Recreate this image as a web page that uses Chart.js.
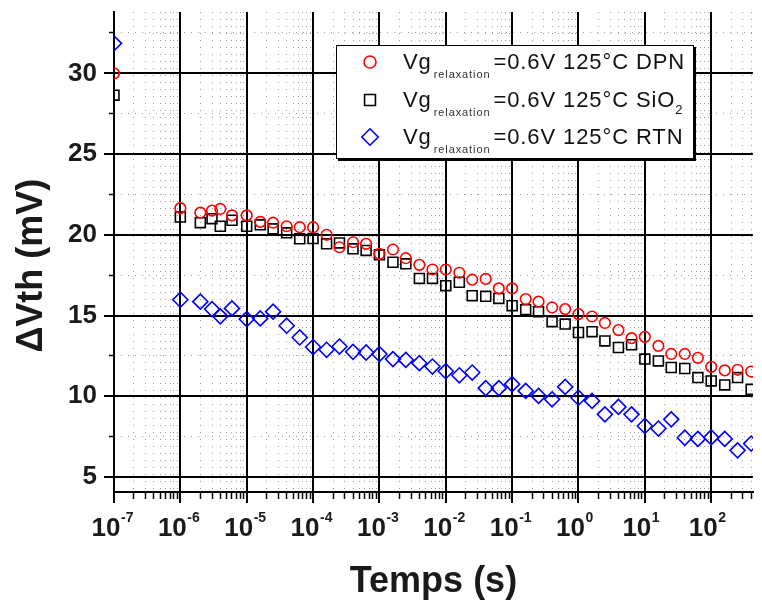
<!DOCTYPE html>
<html>
<head>
<meta charset="utf-8">
<script src="https://cdn.jsdelivr.net/npm/chart.js@4.4.1/dist/chart.umd.min.js"></script>
<style>
    html, body { margin: 0; padding: 0; background: #fff; }
    #wrap { position: relative; width: 762px; height: 604px; overflow: hidden; }
    #legend {
        position: absolute; left: 336px; top: 45px; width: 356px; height: 112px;
        border: 1px solid #000; box-shadow: 2px 2px 0 #000; background: #fff;
        font-family: 'Liberation Sans', Arial, sans-serif; color: #111;
    }
    #legend canvas { position: absolute; left: 23px; }
    #legend .row {
        position: absolute; left: 66px; height: 22px; line-height: 1;
        font-size: 22px; letter-spacing: 0.9px; white-space: nowrap;
    }
    #legend .rel { font-size: 11px; letter-spacing: 0.9px; position: relative; top: 9px; margin: 0 3px 0 2px; color: #333; }
    #legend sub { font-size: 13px; vertical-align: baseline; position: relative; top: 7px; }
</style>
</head>
<body>
<div id="wrap">
    <canvas id="relax-chart" width="762" height="604"></canvas>
    <div id="legend"></div>
</div>
<script>
// temps de relaxation (s), communs aux trois séries
const times = [1e-7, 1e-6, 2e-6, 3e-6, 4e-6, 6e-6,
    1e-5, 1.6e-5, 2.5e-5, 4e-5, 6.3e-5,
    1e-4, 1.6e-4, 2.5e-4, 4e-4, 6.3e-4,
    1e-3, 1.6e-3, 2.5e-3, 4e-3, 6.3e-3,
    1e-2, 1.6e-2, 2.5e-2, 4e-2, 6.3e-2,
    0.1, 0.16, 0.25, 0.4, 0.63,
    1, 1.6, 2.5, 4, 6.3,
    10, 16, 25, 40, 63,
    100, 160, 250, 400];

// ΔVth (mV)
const dpn = [30.0, 21.65, 21.37, 21.5, 21.6, 21.2, 21.2, 20.8, 20.75, 20.53, 20.47,
    20.47, 20.0, 19.23, 19.54, 19.44, 18.82, 19.09, 18.55, 18.14, 17.85,
    17.85, 17.65, 17.22, 17.27, 16.68, 16.68, 16.02, 15.86, 15.5, 15.4,
    15.09, 14.94, 14.54, 14.1, 13.6, 13.68, 13.12, 12.62, 12.62, 12.38,
    11.82, 11.6, 11.64, 11.53];
const sio2 = [28.65, 21.1, 20.75, 21.0, 20.53, 20.9, 20.53, 20.62, 20.37, 20.12, 19.75,
    19.77, 19.44, 19.5, 19.13, 19.03, 18.76, 18.3, 18.2, 17.3, 17.3,
    16.85, 17.06, 16.23, 16.19, 16.06, 15.61, 15.36, 15.24, 14.62, 14.47,
    13.95, 14.0, 13.43, 13.02, 13.19, 12.3, 12.19, 11.78, 11.72, 11.16,
    10.95, 10.7, 11.16, 10.43];
const rtn = [31.86, 15.98, 15.86, 15.4, 14.95, 15.44, 14.78, 14.82, 15.24, 14.37, 13.64,
    13.05, 12.88, 13.08, 12.75, 12.71, 12.61, 12.3, 12.25, 12.05, 11.84,
    11.55, 11.3, 11.47, 10.5, 10.5, 10.75, 10.33, 10.02, 9.81, 10.58,
    9.91, 9.71, 8.88, 9.34, 8.88, 8.16, 8.0, 8.57, 7.43, 7.36,
    7.45, 7.36, 6.65, 7.07];

const seriesNames = ['DPN', 'SiO<sub>2</sub>', 'RTN'];
const legendText = '=0.6V 125°C ';

const xMajorTicks = [1e-7, 1e-6, 1e-5, 1e-4, 1e-3, 1e-2, 1e-1, 1, 10, 100];
const xTickBase = '10';
const xTickExps = ['-7', '-6', '-5', '-4', '-3', '-2', '-1', '0', '1', '2'];
const xMinorSteps = [2, 3, 4, 5, 6, 7, 8, 9];
const yMajorTicks = [5, 10, 15, 20, 25, 30];
const yMinorTicks = [7.5, 12.5, 17.5, 22.5, 27.5, 32.5];

const X_MIN = 1e-7, X_MAX = 425;
const Y_MIN = 4.07, Y_MAX = 33.8;

const FONT = "'Liberation Sans', Arial, sans-serif";
const TEXT = '#1a1a1a';

const xMinorTicks = [];
xMajorTicks.forEach((d) => xMinorSteps.forEach((k) => { if (d * k <= X_MAX) xMinorTicks.push(d * k); }));

const markerStyles = [
    { pointStyle: 'circle', radius: 5.3, color: '#ff0000' },
    { pointStyle: 'rect', radius: 7, color: '#000000' },
    { pointStyle: 'rectRot', radius: 7.5, color: '#0000ff' }
];

function toPoints(values) {
    return values.map((v, i) => ({ x: times[i], y: v }));
}

function makeDataset(label, values, style) {
    return {
        label,
        data: toPoints(values),
        showLine: false,
        pointStyle: style.pointStyle,
        pointRadius: style.radius,
        pointHoverRadius: style.radius,
        pointBorderWidth: 1.6,
        pointBorderColor: style.color,
        pointBackgroundColor: 'rgba(0,0,0,0)'
    };
}

function setTicks(values) {
    return (scale) => { scale.ticks = values.map((v) => ({ value: v })); };
}

// exposants des puissances de 10 sous l'axe x
const exponentPlugin = {
    id: 'exponents',
    afterDraw(chart) {
        const scale = chart.scales.x;
        const ctx = chart.ctx;
        ctx.save();
        ctx.font = 'bold 14px ' + FONT;
        ctx.fillStyle = TEXT;
        ctx.textAlign = 'left';
        ctx.textBaseline = 'alphabetic';
        scale.ticks.forEach((tick, i) => {
            const px = scale.getPixelForValue(tick.value);
            ctx.fillText(xTickExps[i], px + 7, scale.top + 30);
        });
        ctx.restore();
    }
};

new Chart(document.getElementById('relax-chart'), {
    type: 'scatter',
    data: {
        datasets: [
            makeDataset('DPN', dpn, markerStyles[0]),
            makeDataset('SiO2', sio2, markerStyles[1]),
            makeDataset('RTN', rtn, markerStyles[2])
        ]
    },
    plugins: [exponentPlugin],
    options: {
        responsive: false,
        animation: false,
        devicePixelRatio: 1,
        layout: { padding: { top: 12, left: 0, right: 0, bottom: 0 } },
        plugins: { legend: { display: false }, tooltip: { enabled: false } },
        scales: {
            x: {
                type: 'logarithmic', position: 'bottom', min: X_MIN, max: X_MAX, weight: 1,
                afterBuildTicks: setTicks(xMajorTicks),
                afterFit: (s) => { s.height = 112; s.paddingLeft = 0; s.paddingRight = 0; },
                grid: { color: '#000', lineWidth: 2, tickLength: 11, tickWidth: 2, tickColor: '#000', z: -1 },
                border: { display: true, color: '#000', width: 2 },
                ticks: {
                    autoSkip: false, maxRotation: 0, padding: 10, labelOffset: -8, color: TEXT,
                    font: { family: FONT, size: 26, weight: 'bold' },
                    callback: () => xTickBase
                },
                title: {
                    display: true, text: 'Temps (s)', color: TEXT,
                    font: { family: FONT, size: 36, weight: 'bold' },
                    padding: { top: 0, bottom: 0 }
                }
            },
            x2: {
                type: 'logarithmic', position: 'bottom', min: X_MIN, max: X_MAX, weight: -1,
                afterBuildTicks: setTicks(xMinorTicks),
                afterFit: (s) => { s.height = 0; s.paddingLeft = 0; s.paddingRight = 0; },
                grid: { color: '#9c9c9c', lineWidth: 1, tickLength: 7, tickWidth: 1.5, tickColor: '#000', z: -2 },
                border: { display: false, dash: [1, 6] },
                ticks: { display: false }
            },
            y: {
                type: 'linear', position: 'left', min: Y_MIN, max: Y_MAX, weight: 1,
                afterBuildTicks: setTicks(yMajorTicks),
                afterFit: (s) => { s.width = 114; s.paddingTop = 0; s.paddingBottom = 0; },
                grid: { color: '#000', lineWidth: 2, tickLength: 10, tickWidth: 2, tickColor: '#000', z: -1 },
                border: { display: true, color: '#000', width: 2 },
                ticks: {
                    padding: 7, color: TEXT,
                    font: { family: FONT, size: 26, weight: 'bold' },
                    callback: (value) => String(value)
                },
                title: {
                    display: true, text: 'ΔVth (mV)\u00a0\u00a0\u2009', color: TEXT,
                    font: { family: FONT, size: 36, weight: 'bold' },
                    padding: { top: 10, bottom: 0 }
                }
            },
            y2: {
                type: 'linear', position: 'left', min: Y_MIN, max: Y_MAX, weight: -1,
                afterBuildTicks: setTicks(yMinorTicks),
                afterFit: (s) => { s.width = 0; s.paddingTop = 0; s.paddingBottom = 0; },
                grid: { color: '#9c9c9c', lineWidth: 1, tickLength: 5, tickWidth: 1.5, tickColor: '#000', z: -2 },
                border: { display: false, dash: [1, 6] },
                ticks: { display: false }
            }
        }
    }
});

// légende HTML (indices "relaxation" et SiO2)
const legend = document.getElementById('legend');
seriesNames.forEach((name, i) => {
    const top = 6 + i * 37.5;
    const marker = document.createElement('canvas');
    marker.width = 20;
    marker.height = 20;
    marker.style.top = top + 'px';
    const ctx = marker.getContext('2d');
    const st = markerStyles[i];
    ctx.strokeStyle = st.color;
    ctx.fillStyle = 'rgba(0,0,0,0)';
    ctx.lineWidth = 1.6;
    Chart.helpers.drawPoint(ctx, { pointStyle: st.pointStyle, radius: st.radius + 0.7, borderWidth: 1.6, rotation: 0 }, 10, 10);
    legend.appendChild(marker);

    const row = document.createElement('div');
    row.className = 'row';
    row.style.top = (5.4 + i * 37.5) + 'px';
    row.innerHTML = 'Vg<span class="rel">relaxation</span>' + legendText + name;
    legend.appendChild(row);
});
</script>
</body>
</html>
